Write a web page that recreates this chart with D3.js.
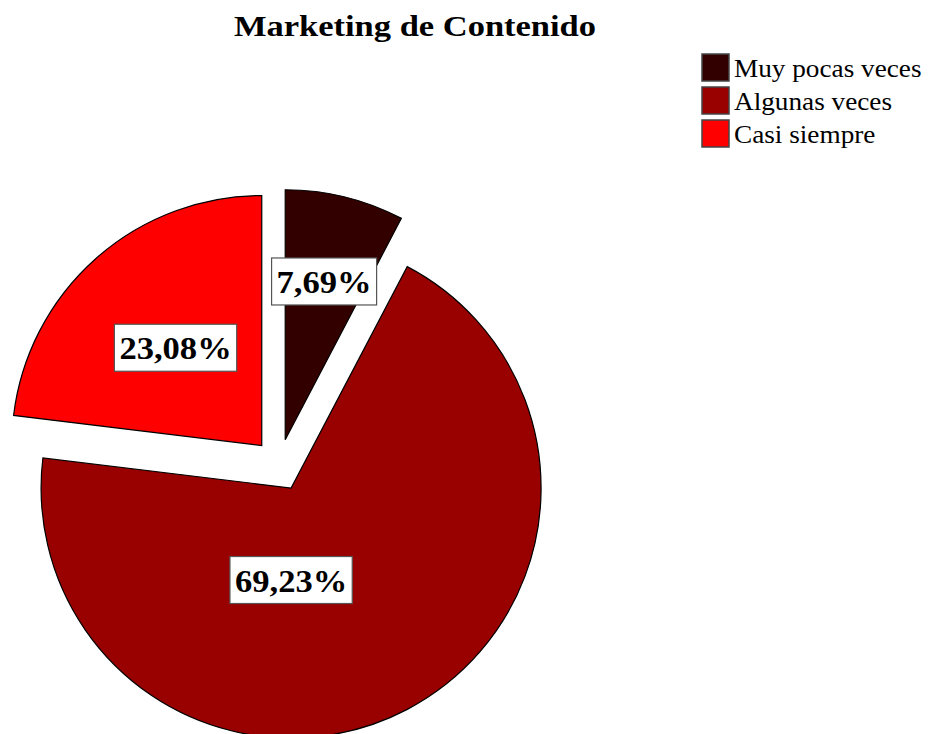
<!DOCTYPE html>
<html>
<head>
<meta charset="utf-8">
<script src="https://cdn.jsdelivr.net/npm/d3@7"></script>
<style>
  html, body { margin: 0; padding: 0; background: #ffffff; }
  svg { display: block; }
  text { font-family: "Liberation Serif", "Times New Roman", serif; }
</style>
</head>
<body>
<svg id="chart" width="930" height="734"></svg>
<script>
// Survey answers for "Marketing de Contenido"
const categories = ["Muy pocas veces", "Algunas veces", "Casi siempre"];
const values = [7.69, 69.23, 23.08];
const colors = ["#330000", "#990000", "#ff0000"];
const titleText = "Marketing de Contenido";

const fmt = v => d3.format(".2f")(v).replace(".", ",") + "%";

const svg = d3.select("#chart");
const cx = 279, cy = 465, R = 250, explode = 26;

// Title (slightly widened serif face)
const titleScale = 1.15;
svg.append("text")
  .attr("transform", `translate(415,36) scale(${titleScale},1)`)
  .attr("text-anchor", "middle")
  .attr("font-size", 30).attr("font-weight", "bold")
  .text(titleText);

// Pie layout: starts at 12 o'clock, clockwise, in data order
const pie = d3.pie().sort(null).value(d => d.value);
const data = categories.map((c, i) => ({ name: c, value: values[i], color: colors[i] }));
const arcs = pie(data);
const arc = d3.arc().innerRadius(0).outerRadius(R);

// Label placement per slice: angle (radians, null = mid angle) and radius fraction
const labelPlacement = [
  { angle: null, frac: 0.65 },
  { angle: Math.PI, frac: 0.37 },
  { angle: null, frac: 0.52 }
];

const g = svg.append("g").attr("transform", `translate(${cx},${cy})`);

const slices = g.selectAll("g.slice").data(arcs).enter().append("g")
  .attr("class", "slice")
  .attr("transform", d => {
    const a = (d.startAngle + d.endAngle) / 2;
    return `translate(${explode * Math.sin(a)},${-explode * Math.cos(a)})`;
  });

slices.append("path")
  .attr("d", arc)
  .attr("fill", d => d.data.color)
  .attr("stroke", "#000")
  .attr("stroke-width", 1.2)
  .attr("stroke-linejoin", "miter");

// Value labels in white boxes
const labelScale = 1.08;
slices.each(function(d, i) {
  const p = labelPlacement[i];
  const a = p.angle === null ? (d.startAngle + d.endAngle) / 2 : p.angle;
  const x = p.frac * R * Math.sin(a), y = -p.frac * R * Math.cos(a);
  const lg = d3.select(this).append("g").attr("transform", `translate(${x},${y})`);
  const rect = lg.append("rect");
  const t = lg.append("text")
    .attr("transform", `scale(${labelScale},1)`)
    .attr("text-anchor", "middle")
    .attr("dominant-baseline", "central")
    .attr("font-size", 32).attr("font-weight", "bold")
    .attr("fill", "#000")
    .text(fmt(d.data.value));
  const bb = t.node().getBBox();
  const w = bb.width * labelScale;
  rect.attr("x", -w / 2 - 5).attr("y", -24)
    .attr("width", w + 10).attr("height", 47)
    .attr("fill", "#fff").attr("stroke", "#555").attr("stroke-width", 1.2);
});

// Legend
const legendScale = 1.09;
const legend = svg.append("g").attr("transform", "translate(702,54)");
const rows = legend.selectAll("g").data(data).enter().append("g")
  .attr("transform", (d, i) => `translate(0,${i * 33})`);
rows.append("rect")
  .attr("width", 27).attr("height", 27)
  .attr("fill", d => d.color)
  .attr("stroke", "#444").attr("stroke-width", 1.5);
rows.append("text")
  .attr("transform", `translate(32,23) scale(${legendScale},1)`)
  .attr("font-size", 25)
  .attr("fill", "#000")
  .text(d => d.name);
</script>
</body>
</html>
